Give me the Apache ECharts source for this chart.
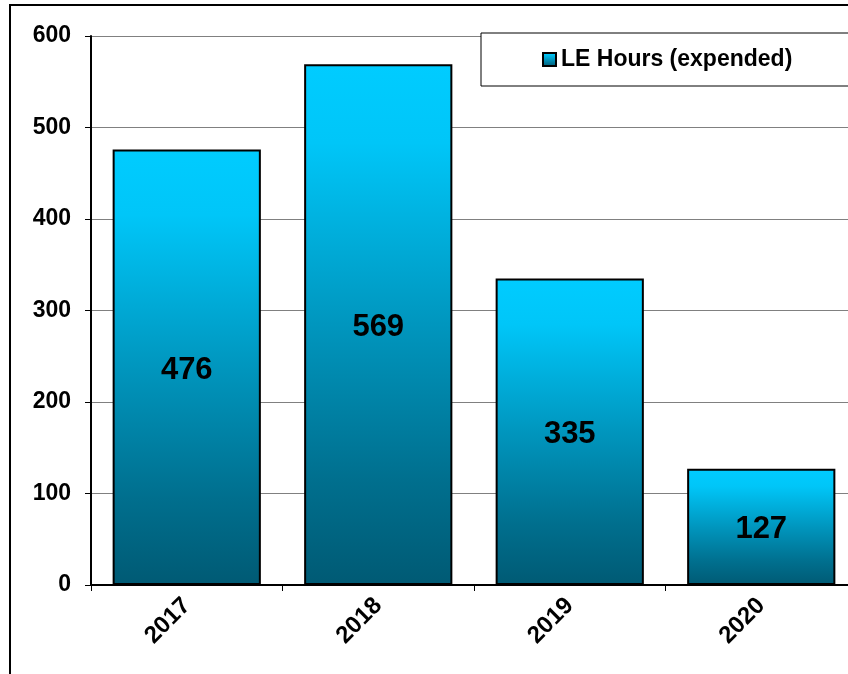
<!DOCTYPE html>
<html>
<head>
<meta charset="utf-8">
<script src="https://cdn.jsdelivr.net/npm/echarts@6/dist/echarts.min.js"></script>
<style>
html,body{margin:0;padding:0;background:#fff;overflow:hidden;width:848px;height:674px;}
#chart{width:870px;height:674px;}
</style>
</head>
<body>
<div id="chart"></div>
<script>
const categories = ['2017', '2018', '2019', '2020'];
const leHours = [476, 569, 335, 127];
const seriesName = 'LE Hours (expended)';
const yTicks = { min: 0, max: 600, interval: 100 };

const chart = echarts.init(document.getElementById('chart'), null, { renderer: 'canvas' });
const font = '"Liberation Sans", Arial, sans-serif';
const barGradient = new echarts.graphic.LinearGradient(0, 0, 0, 1, [
  { offset: 0, color: '#00CCFF' },
  { offset: 0.15, color: '#00C6F8' },
  { offset: 0.5, color: '#0096BE' },
  { offset: 0.8, color: '#006F8E' },
  { offset: 1, color: '#005A74' }
]);

chart.setOption({
  backgroundColor: '#fff',
  animation: false,
  graphic: [{
    type: 'rect',
    shape: { x: 10, y: 5, width: 900, height: 720 },
    style: { fill: null, stroke: '#000', lineWidth: 2 },
    z: 0
  }],
  legend: {
    left: 481,
    top: 33,
    padding: [15, 80, 15, 61],
    backgroundColor: '#fff',
    borderColor: '#000',
    borderWidth: 1,
    itemWidth: 13,
    itemHeight: 13,
    itemGap: 6,
    icon: 'rect',
    textStyle: { fontFamily: font, fontWeight: 'bold', fontSize: 23, color: '#000' },
    data: [seriesName]
  },
  grid: { left: 91, top: 36, width: 766, height: 549, containLabel: false },
  xAxis: {
    type: 'category',
    data: categories,
    axisLine: { lineStyle: { color: '#000', width: 2 } },
    axisTick: { show: true, length: 6, lineStyle: { color: '#000', width: 1 }, alignWithLabel: false },
    axisLabel: { rotate: 45, margin: 17, fontFamily: font, fontWeight: 'bold', fontSize: 24, color: '#000' },
    splitLine: { show: false }
  },
  yAxis: {
    type: 'value',
    min: yTicks.min, max: yTicks.max, interval: yTicks.interval,
    axisLine: { show: true, lineStyle: { color: '#000', width: 2 } },
    axisTick: { show: true, length: 6, lineStyle: { color: '#000', width: 1 } },
    axisLabel: { margin: 20, fontFamily: font, fontWeight: 'bold', fontSize: 23, color: '#000' },
    splitLine: { show: true, lineStyle: { color: '#808080', width: 1 } }
  },
  series: [{
    name: seriesName,
    type: 'bar',
    data: leHours,
    barCategoryGap: '22.6%',
    itemStyle: { color: barGradient, borderColor: '#000', borderWidth: 2 },
    label: {
      show: true,
      position: 'inside',
      offset: [0, 3],
      fontFamily: font,
      fontWeight: 'bold',
      fontSize: 31,
      color: '#000'
    }
  }]
});
</script>
</body>
</html>
